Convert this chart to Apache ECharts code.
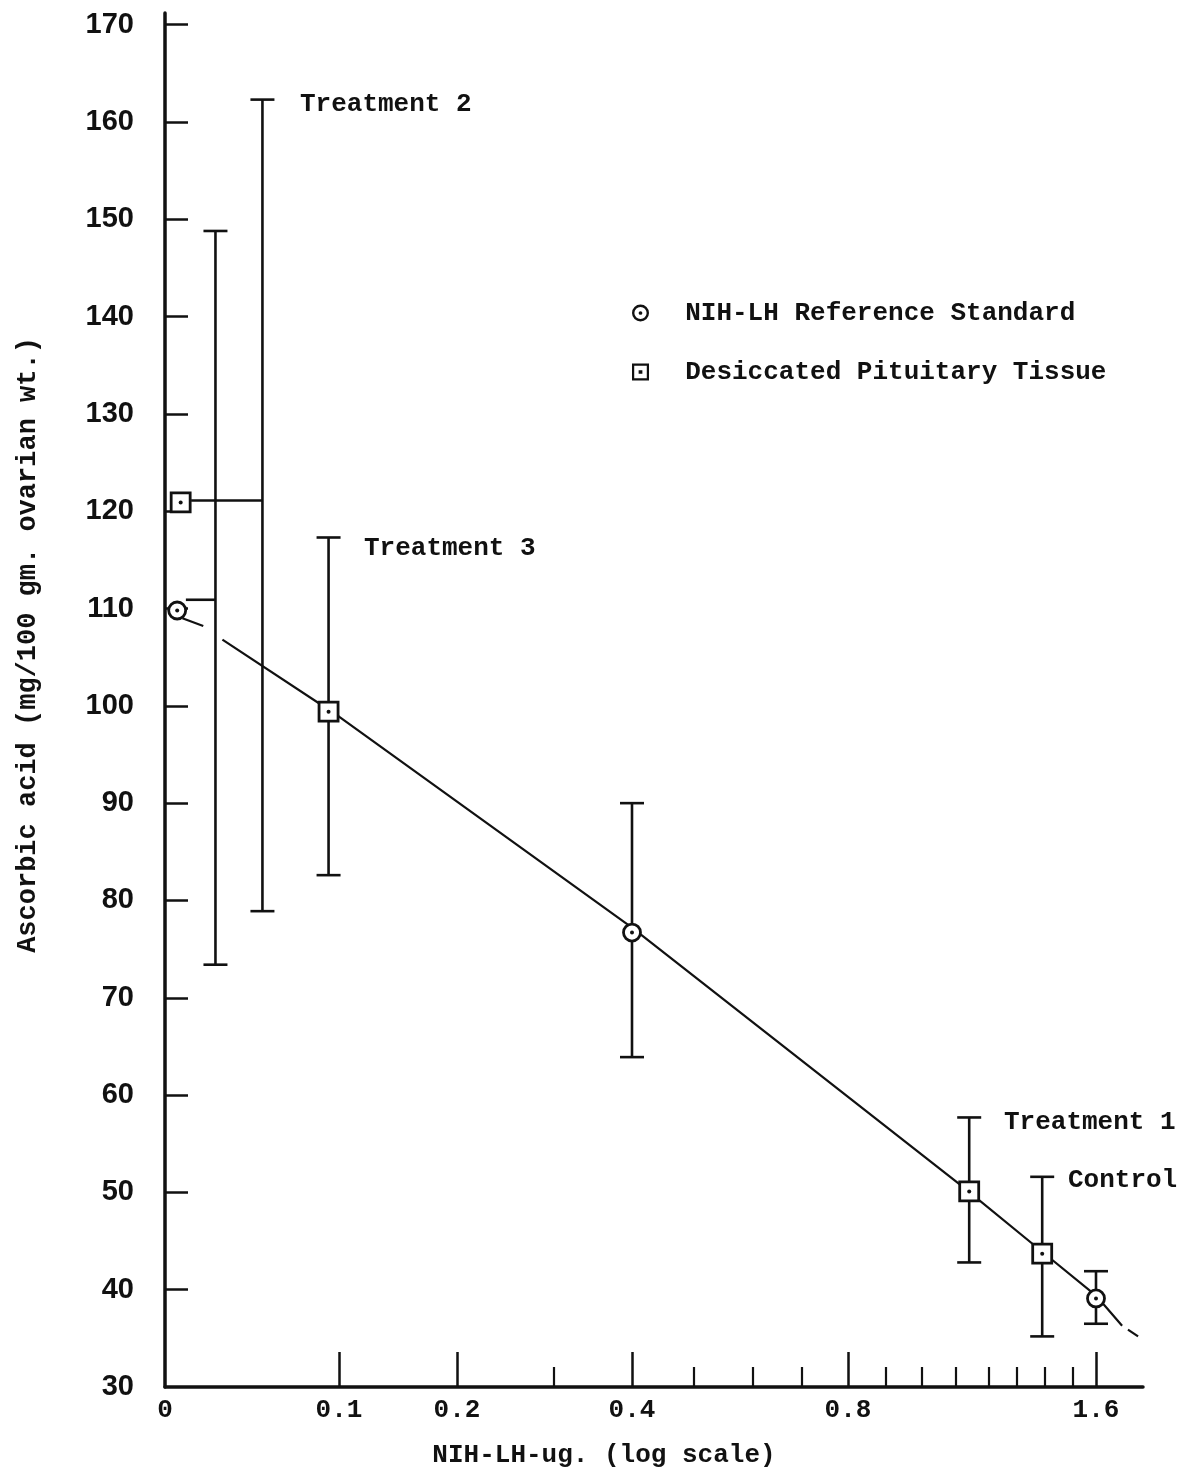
<!DOCTYPE html>
<html>
<head>
<meta charset="utf-8">
<script src="https://cdn.jsdelivr.net/npm/echarts@6/dist/echarts.min.js"></script>
<style>
  html, body { margin: 0; padding: 0; background: #fff; }
  #chart { width: 1183px; height: 1477px; }
</style>
</head>
<body>
<div id="chart"></div>
<script>
// the "log scale" x axis is hand spaced: dose -> distance from origin along the axis
const doseTicks = [0, 0.1, 0.2, 0.3, 0.4, 0.5, 0.6, 0.7, 0.8, 0.9, 1.0, 1.1, 1.2, 1.3, 1.4, 1.5, 1.6, 1.8];
const tickOffsets = [0, 174, 292, 389, 467, 529, 588, 637, 683, 721, 757, 791, 824, 852, 880, 908, 931, 978];
const labelDoses = [0, 0.1, 0.2, 0.4, 0.8, 1.6];
const xLabels = ['0', '0.1', '0.2', '0.4', '0.8', '1.6'];
const majorDoses = [0.1, 0.2, 0.4, 0.8, 1.6];
const minorDoses = [0.3, 0.5, 0.6, 0.7, 0.9, 1.0, 1.1, 1.2, 1.3, 1.4, 1.5];
const yTicks = [40, 50, 60, 70, 80, 90, 100, 110, 120, 130, 140, 150, 160, 170];
const yLabels = [30, 40, 50, 60, 70, 80, 90, 100, 110, 120, 130, 140, 150, 160, 170];

// [dose, ascorbic acid]
const nihStandard = [[0.007, 109.8], [0.4, 76.7], [1.6, 39.1]];
const pituitary = [[0.009, 120.9], [0.094, 99.4], [1.14, 50.1], [1.39, 43.7]];

// [bar dose, low, high, connector start dose, connector level]
const errorBars = [
  [0.029, 73.4, 148.8, 0.012, 110.9],
  [0.056, 78.9, 162.3, 0.015, 121.1],
  [0.094, 82.6, 117.3],
  [0.4, 63.9, 90.0],
  [1.14, 42.8, 57.7],
  [1.39, 35.2, 51.6],
  [1.6, 36.5, 41.9]
];

// fitted line, drawn in pieces as in the original
const fitStart = [[0.010, 109.0], [0.022, 108.2]];
const fitLine = [[0.033, 106.8], [0.1, 98.9], [0.4, 77.2], [1.12, 50.6], [1.39, 43.9], [1.6, 39.4], [1.711, 36.3]];
const fitEnd = [[1.736, 35.9], [1.779, 35.2]];

const annotations = [
  { text: 'Treatment 2', x: 300, y: 104 },
  { text: 'Treatment 3', x: 364, y: 548 },
  { text: 'Treatment 1', x: 1004, y: 1122 },
  { text: 'Control', x: 1068, y: 1180 }
];

const INK = '#111';
const MONO = '"Liberation Mono", "DejaVu Sans Mono", monospace';

function xPos(d) {
  for (let i = 1; i < doseTicks.length; i++) {
    if (d <= doseTicks[i]) {
      const t = (d - doseTicks[i - 1]) / (doseTicks[i] - doseTicks[i - 1]);
      return tickOffsets[i - 1] + t * (tickOffsets[i] - tickOffsets[i - 1]);
    }
  }
  return tickOffsets[tickOffsets.length - 1];
}
const toXY = (pts) => pts.map(([d, v]) => [xPos(d), v]);

const ringIcon = 'path://M0,-10A10,10 0 1,1 0,10A10,10 0 1,1 0,-10Z' +
  'M0,-7.2A7.2,7.2 0 1,0 0,7.2A7.2,7.2 0 1,0 0,-7.2Z' +
  'M0,-2.2A2.2,2.2 0 1,1 0,2.2A2.2,2.2 0 1,1 0,-2.2Z';
const boxIcon = 'path://M-10,-10L10,-10L10,10L-10,10Z' +
  'M-7.4,-7.4L-7.4,7.4L7.4,7.4L7.4,-7.4Z' +
  'M-2.2,-2.2L2.2,-2.2L2.2,2.2L-2.2,2.2Z';

const chart = echarts.init(document.getElementById('chart'));

const barStyle = { stroke: INK, lineWidth: 2.6 };
const CAP = 12;

const xMax = tickOffsets[tickOffsets.length - 1];
const baseX = {
  type: 'value', min: 0, max: xMax, position: 'bottom',
  splitLine: { show: false }
};

const option = {
  animation: false,
  backgroundColor: '#fff',
  grid: { left: 165, right: 40, top: 13, bottom: 90 },
  xAxis: [
    {
      ...baseX,
      axisLine: { lineStyle: { color: INK, width: 3.5 } },
      axisTick: {
        inside: true, length: 35, lineStyle: { color: INK, width: 2.5 },
        customValues: majorDoses.map(xPos)
      },
      axisLabel: {
        margin: 10, color: INK, fontFamily: MONO, fontWeight: 'bold', fontSize: 26,
        customValues: labelDoses.map(xPos),
        formatter: (v) => {
          const i = labelDoses.findIndex((d) => Math.abs(xPos(d) - v) < 0.5);
          return i >= 0 ? xLabels[i] : '';
        }
      }
    },
    {
      ...baseX,
      axisLine: { show: false },
      axisTick: {
        inside: true, length: 20, lineStyle: { color: INK, width: 2.2 },
        customValues: minorDoses.map(xPos)
      },
      axisLabel: { show: false }
    }
  ],
  yAxis: {
    type: 'value', min: 30, max: 171.2,
    splitLine: { show: false },
    axisLine: { show: true, lineStyle: { color: INK, width: 3.5 } },
    axisTick: {
      inside: true, length: 23, lineStyle: { color: INK, width: 2.5 },
      customValues: yTicks
    },
    axisLabel: {
      margin: 31, color: INK, fontFamily: '"Liberation Sans", Arial, sans-serif',
      fontWeight: 'bold', fontSize: 29,
      customValues: yLabels
    }
  },
  legend: {
    orient: 'vertical', left: 627, top: 295,
    itemWidth: 17, itemHeight: 17, itemGap: 33,
    selectedMode: false,
    itemStyle: { color: INK, borderWidth: 0 },
    formatter: (name) => '  ' + name,
    textStyle: { color: INK, fontFamily: MONO, fontWeight: 'bold', fontSize: 26 },
    data: [
      { name: 'NIH-LH Reference Standard', icon: ringIcon },
      { name: 'Desiccated Pituitary Tissue', icon: boxIcon }
    ]
  },
  graphic: [
    ...annotations.map((a) => ({
      type: 'text', x: a.x, y: a.y, silent: true,
      style: { text: a.text, font: 'bold 26px ' + MONO, fill: INK, align: 'left', verticalAlign: 'middle' }
    })),
    {
      type: 'text', x: 604, y: 1455, silent: true,
      style: { text: 'NIH-LH-ug. (log scale)', font: 'bold 26px ' + MONO, fill: INK, align: 'center', verticalAlign: 'middle' }
    },
    {
      type: 'text', x: 28, y: 645, rotation: Math.PI / 2, silent: true,
      style: { text: 'Ascorbic acid (mg/100 gm. ovarian wt.)', font: 'bold 27px ' + MONO, fill: INK, align: 'center', verticalAlign: 'middle' }
    }
  ],
  series: [
    {
      name: 'errors', type: 'custom', z: 2, silent: true,
      encode: { x: [0, 3], y: [1, 2, 4] },
      data: errorBars.map(([d, lo, hi, from, lvl]) => [
        xPos(d), lo, hi, from == null ? '-' : xPos(from), lvl == null ? '-' : lvl
      ]),
      renderItem: (params, api) => {
        const x = api.value(0);
        const top = api.coord([x, api.value(2)]);
        const bot = api.coord([x, api.value(1)]);
        const children = [
          { type: 'line', shape: { x1: top[0], y1: top[1], x2: bot[0], y2: bot[1] }, style: barStyle },
          { type: 'line', shape: { x1: top[0] - CAP, y1: top[1], x2: top[0] + CAP, y2: top[1] }, style: barStyle },
          { type: 'line', shape: { x1: bot[0] - CAP, y1: bot[1], x2: bot[0] + CAP, y2: bot[1] }, style: barStyle }
        ];
        const from = api.value(3);
        if (!isNaN(from)) {
          const a = api.coord([from, api.value(4)]);
          const b = api.coord([x, api.value(4)]);
          children.push({ type: 'line', shape: { x1: a[0], y1: a[1], x2: b[0], y2: b[1] }, style: barStyle });
        }
        return { type: 'group', children };
      }
    },
    ...[fitStart, fitLine, fitEnd].map((pts) => ({
      name: 'fit', type: 'line', z: 2, silent: true, symbol: 'none',
      data: toXY(pts),
      lineStyle: { color: INK, width: 2.2 }
    })),
    {
      name: 'NIH-LH Reference Standard', type: 'scatter', z: 5, silent: true,
      symbol: 'circle', symbolSize: 17,
      itemStyle: { color: '#fff', borderColor: INK, borderWidth: 2.8, opacity: 1 },
      data: toXY(nihStandard)
    },
    {
      name: 'Desiccated Pituitary Tissue', type: 'scatter', z: 5, silent: true,
      symbol: 'rect', symbolSize: 19,
      itemStyle: { color: '#fff', borderColor: INK, borderWidth: 2.8, opacity: 1 },
      data: toXY(pituitary)
    },
    {
      name: 'centres', type: 'scatter', z: 6, silent: true,
      symbol: 'circle', symbolSize: 4,
      itemStyle: { color: INK, opacity: 1 },
      data: toXY(nihStandard.concat(pituitary))
    }
  ]
};

chart.setOption(option);
</script>
</body>
</html>
